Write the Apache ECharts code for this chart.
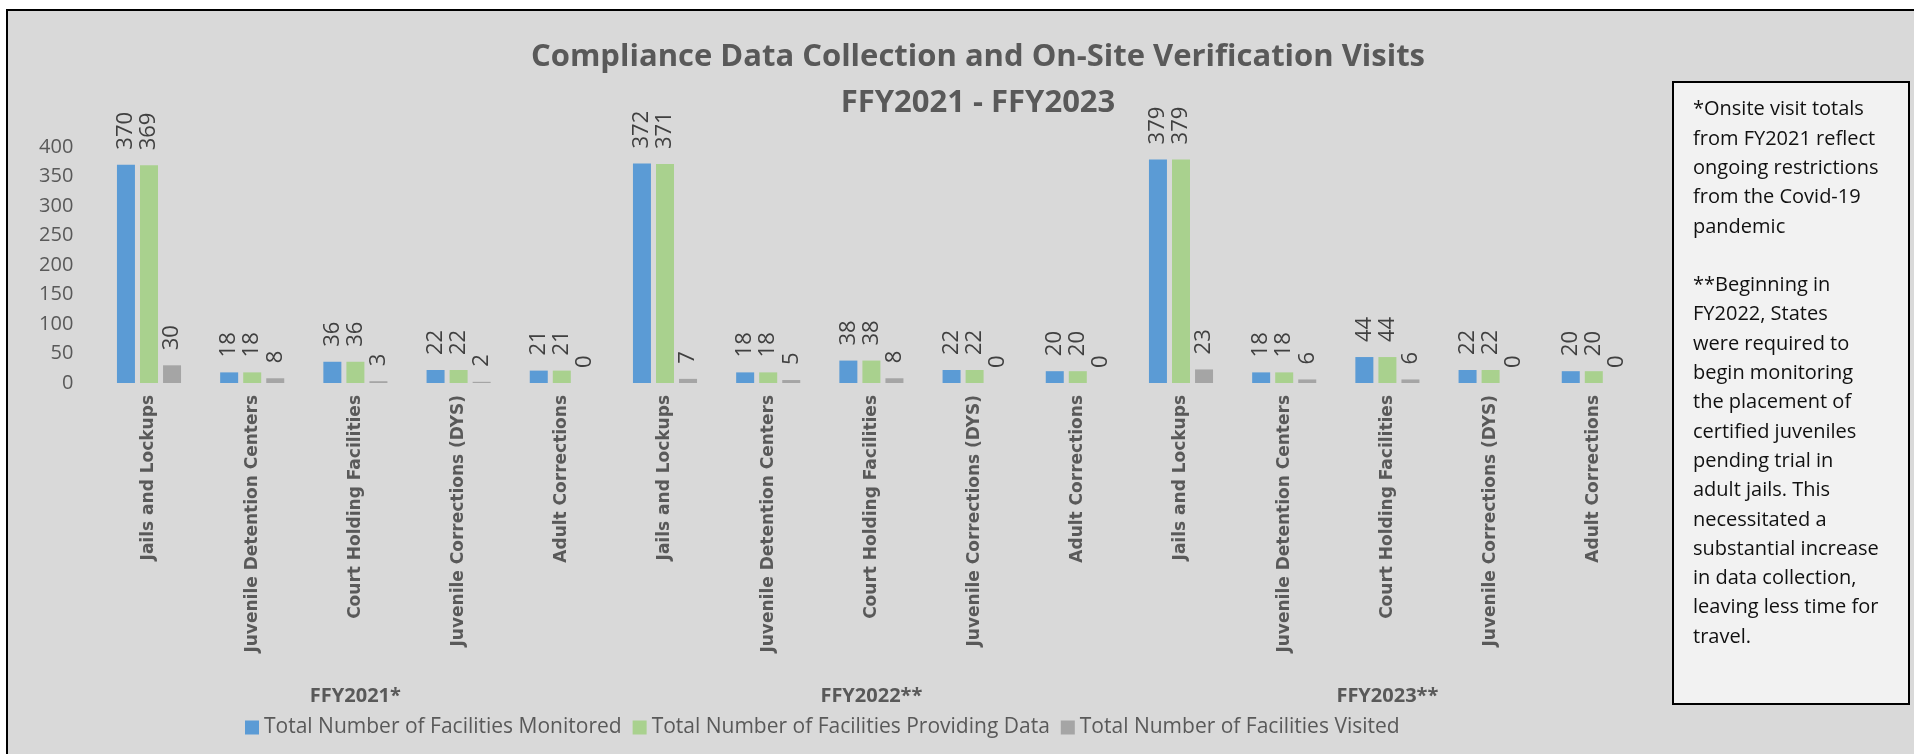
<!DOCTYPE html>
<html>
<head>
<meta charset="utf-8">
<title>Compliance Data Collection and On-Site Verification Visits</title>
<script src="https://cdn.jsdelivr.net/npm/echarts@6/dist/echarts.min.js"></script>
<style>
  html, body { margin: 0; padding: 0; background: #fff; }
  #chart { width: 1914px; height: 754px; }
</style>
</head>
<body>
<div id="chart"></div>
<script>
  // facility types, repeated once per fiscal year
  var facilityTypes = ['Jails and Lockups', 'Juvenile Detention Centers', 'Court Holding Facilities', 'Juvenile Corrections (DYS)', 'Adult Corrections']
  var fiscalYears = ['FFY2021*', 'FFY2022**', 'FFY2023**']
  var seriesNames = ['Total Number of Facilities Monitored', 'Total Number of Facilities Providing Data', 'Total Number of Facilities Visited']

  var monitored = [370, 18, 36, 22, 21, 372, 18, 38, 22, 20, 379, 18, 44, 22, 20]
  var providingData = [369, 18, 36, 22, 21, 371, 18, 38, 22, 20, 379, 18, 44, 22, 20]
  var visited = [30, 8, 3, 2, 0, 7, 5, 8, 0, 0, 23, 6, 6, 0, 0]

  var yTicks = [0, 50, 100, 150, 200, 250, 300, 350, 400]

  var noteLines = [
    '*Onsite visit totals',
    'from FY2021 reflect',
    'ongoing restrictions',
    'from the Covid-19',
    'pandemic',
    '',
    '**Beginning in',
    'FY2022, States',
    'were required to',
    'begin monitoring',
    'the placement of',
    'certified juveniles',
    'pending trial in',
    'adult jails. This',
    'necessitated a',
    'substantial increase',
    'in data collection,',
    'leaving less time for',
    'travel.'
  ]

  var categories = []
  fiscalYears.forEach(function () {
    facilityTypes.forEach(function (t) { categories.push(t) })
  })

  var colors = ['#5b9bd5', '#a9d18e', '#a5a5a5']
  var values = [monitored, providingData, visited]

  var myChart = echarts.init(document.getElementById('chart'))

  var dataLabel = {
    show: true,
    position: 'top',
    rotate: 90,
    align: 'left',
    verticalAlign: 'middle',
    distance: 15,
    fontFamily: 'Open Sans',
    fontSize: 22,
    color: '#404040'
  }

  var option = {
    backgroundColor: '#fff',
    textStyle: { fontFamily: 'Open Sans' },
    animation: false,
    title: {
      text: 'Compliance Data Collection and On-Site Verification Visits\nFFY2021 - FFY2023',
      left: 978,
      top: 34,
      padding: 0,
      textAlign: 'center',
      textStyle: {
        fontFamily: 'Open Sans',
        fontWeight: 'bold',
        fontSize: 31,
        lineHeight: 46,
        color: '#595959'
      }
    },
    legend: {
      data: seriesNames,
      left: 245,
      top: 717,
      padding: 0,
      itemWidth: 14,
      itemHeight: 14,
      itemGap: 11,
      icon: 'rect',
      textStyle: { fontFamily: 'Open Sans', fontSize: 21, color: '#595959' }
    },
    grid: {
      left: 97.4,
      right: 268.6,
      top: 147,
      bottom: 371,
      containLabel: false
    },
    xAxis: [{
      type: 'category',
      data: categories,
      axisLine: { show: false },
      axisTick: { show: false },
      axisLabel: {
        interval: 0,
        rotate: 90,
        margin: 12,
        fontFamily: 'DejaVu Sans',
        fontWeight: 'bold',
        fontSize: 17,
        color: '#595959'
      }
    }, {
      type: 'category',
      data: fiscalYears,
      position: 'bottom',
      axisLine: { show: false },
      axisTick: { show: false },
      axisLabel: {
        interval: 0,
        margin: 313,
        verticalAlign: 'middle',
        fontFamily: 'Open Sans',
        fontWeight: 'bold',
        fontSize: 20,
        color: '#595959'
      }
    }],
    yAxis: {
      type: 'value',
      min: yTicks[0],
      max: yTicks[yTicks.length - 1],
      interval: yTicks[1] - yTicks[0],
      axisLine: { show: false },
      axisTick: { show: false },
      splitLine: { show: false },
      axisLabel: { margin: 24, fontFamily: 'Open Sans', fontSize: 20, color: '#595959' }
    },
    series: seriesNames.map(function (name, i) {
      return {
        name: name,
        type: 'bar',
        xAxisIndex: 0,
        barWidth: 18,
        barGap: '28%',
        data: values[i],
        label: dataLabel,
        itemStyle: { color: colors[i] }
      }
    }),
    graphic: [{
      type: 'rect',
      z: -10,
      shape: { x: 7, y: 10, width: 1930, height: 770 },
      style: { fill: '#d9d9d9', stroke: '#000', lineWidth: 2 }
    }, {
      type: 'group',
      children: [{
        type: 'rect',
        shape: { x: 1673, y: 82, width: 236, height: 622 },
        style: { fill: '#f2f2f2', stroke: '#000', lineWidth: 2 }
      }, {
        type: 'text',
        x: 1693,
        y: 95,
        style: {
          text: noteLines.join('\n'),
          fontFamily: 'Open Sans',
          fontSize: 20,
          lineHeight: 29.3,
          fill: '#111'
        }
      }]
    }]
  }

  option && myChart.setOption(option)
  window.addEventListener('resize', myChart.resize)
</script>
</body>
</html>
